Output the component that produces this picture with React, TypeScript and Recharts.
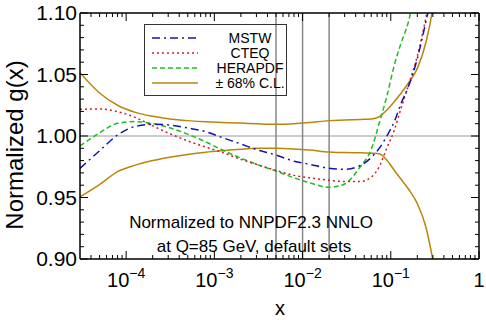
import { LineChart, Line, XAxis, YAxis, ReferenceLine, Legend } from "recharts";

// x grid (log scale) and normalized gluon ratios
const X_VALS = [
  3e-5, 5e-5, 8e-5, 1.3e-4, 2e-4, 3e-4, 5e-4, 8e-4, 1.2e-3, 2e-3, 3e-3, 5e-3, 8e-3, 0.012,
  0.02, 0.03, 0.045, 0.06, 0.075, 0.09, 0.11, 0.13, 0.16, 0.2, 0.25, 0.3, 0.35,
];
const MSTW = [
  0.9737, 0.988, 1.0008, 1.008, 1.0095, 1.009, 1.0065, 1.0035, 0.999, 0.9935, 0.989, 0.9845,
  0.9795, 0.977, 0.9737, 0.973, 0.976, 0.9825, 0.9905, 0.9998, 1.012, 1.026, 1.041, 1.063,
  1.093, 1.12, 1.15,
];
const CTEQ = [
  1.0217, 1.022, 1.0198, 1.0148, 1.0082, 1.0025, 0.996, 0.991, 0.987, 0.981, 0.977, 0.972,
  0.968, 0.966, 0.964, 0.963, 0.963, 0.9665, 0.976, 0.99, 1.005, 1.022, 1.042, 1.065, 1.096,
  1.125, 1.16,
];
const HERAPDF = [
  0.9919, 1.0025, 1.0103, 1.0117, 1.01, 1.007, 1.0015, 0.9952, 0.989, 0.982, 0.977, 0.9715,
  0.966, 0.962, 0.9583, 0.961, 0.975, 0.989, 1.012, 1.032, 1.058, 1.075, 1.094, 1.13, 1.18,
  1.23, 1.28,
];
const CL_UP = [
  1.0515, 1.035, 1.025, 1.019, 1.016, 1.014, 1.0125, 1.0115, 1.011, 1.0105, 1.01, 1.0095,
  1.01, 1.011, 1.0125, 1.013, 1.0135, 1.0138, 1.016, 1.021, 1.028, 1.0345, 1.0435, 1.055,
  1.076, 1.105, 1.15,
];
const CL_LO = [
  0.9506, 0.9605, 0.971, 0.9765, 0.98, 0.9825, 0.985, 0.9868, 0.988, 0.9893, 0.99, 0.99,
  0.9895, 0.9886, 0.987, 0.9865, 0.9864, 0.986, 0.9853, 0.9805, 0.972, 0.965, 0.9565, 0.945,
  0.926, 0.899, 0.87,
];

const X_MAJOR = [1e-4, 1e-3, 1e-2, 1e-1, 1];
const X_EXP = ["−4", "−3", "−2", "−1", ""];
const X_MINOR_MULT = [2, 3, 4, 5, 6, 7, 8, 9];
const Y_TICKS = [
  0.9, 0.91, 0.92, 0.93, 0.94, 0.95, 0.96, 0.97, 0.98, 0.99, 1.0, 1.01, 1.02, 1.03, 1.04, 1.05,
  1.06, 1.07, 1.08, 1.09, 1.1,
];
const V_LINES = [0.005, 0.01, 0.02];

const data = X_VALS.map((x, i) => ({
  x,
  mstw: MSTW[i],
  cteq: CTEQ[i],
  hera: HERAPDF[i],
  up: CL_UP[i],
  lo: CL_LO[i],
}));

const X_TICKS = [
  ...[1e-5, 1e-4, 1e-3, 1e-2, 1e-1].flatMap((d) => [d, ...X_MINOR_MULT.map((m) => m * d)]),
  1,
].filter((v) => v >= 3.0001e-5 && v <= 1);

const FONT = "'Liberation Sans', Arial, Helvetica, sans-serif";
const GOLD = "#b8860b";

const SERIES = [
  { name: "MSTW", color: "#1414b4", dash: "8 4 2 4" },
  { name: "CTEQ", color: "#cc2020", dash: "2 3" },
  { name: "HERAPDF", color: "#22bb22", dash: "5 3" },
  { name: "± 68% C.L.", color: GOLD, dash: undefined },
];

const majorIndex = (v: number) => X_MAJOR.findIndex((m) => Math.abs(v / m - 1) < 1e-6);
const isMajorY = (v: number) => Math.round(v * 100) % 5 === 0;

function BottomTick({ x, y, payload }: any) {
  const i = majorIndex(payload.value);
  const len = i >= 0 ? 8 : 4;
  return (
    <g>
      <line x1={x} x2={x} y1={y} y2={y - len} stroke="#000" />
      {i >= 0 && (
        <text x={x} y={y + 28} textAnchor="middle" fontSize={20} fontFamily={FONT} fill="#000">
          {X_EXP[i] ? (
            <>
              <tspan>10</tspan>
              <tspan fontSize={14} dy={-9}>{X_EXP[i]}</tspan>
            </>
          ) : (
            "1"
          )}
        </text>
      )}
    </g>
  );
}

function TopTick({ x, y, payload }: any) {
  const len = majorIndex(payload.value) >= 0 ? 8 : 4;
  return <line x1={x} x2={x} y1={y} y2={y + len} stroke="#000" />;
}

function LeftTick({ x, y, payload }: any) {
  const v = payload.value;
  const major = isMajorY(v);
  return (
    <g>
      <line x1={x} x2={x + (major ? 8 : 4)} y1={y} y2={y} stroke="#000" />
      {major && (
        <text x={x - 3} y={y + 7} textAnchor="end" fontSize={21} fontFamily={FONT} fill="#000">
          {v.toFixed(2)}
        </text>
      )}
    </g>
  );
}

function RightTick({ x, y, payload }: any) {
  const len = isMajorY(payload.value) ? 8 : 4;
  return <line x1={x} x2={x - len} y1={y} y2={y} stroke="#000" />;
}

function LegendBox() {
  return (
    <svg width={144} height={73} style={{ display: "block" }}>
      <rect x={0.5} y={0.5} width={142} height={71} fill="none" stroke="#333" />
      {SERIES.map((s, i) => (
        <g key={s.name}>
          <line
            x1={8}
            x2={54}
            y1={14 + i * 15}
            y2={14 + i * 15}
            stroke={s.color}
            strokeWidth={1.5}
            strokeDasharray={s.dash}
          />
          <text x={106} y={19 + i * 15} textAnchor="middle" fontSize={14} fontFamily={FONT} fill="#000">
            {s.name}
          </text>
        </g>
      ))}
    </svg>
  );
}

export default function App() {
  const axisLine = { stroke: "#000", strokeWidth: 1.5 };
  return (
    <div style={{ position: "relative", width: 486, height: 320 }}>
      <style>{"body{margin:0}"}</style>
      <LineChart width={486} height={320} data={data} margin={{ top: 0, right: 0, bottom: 0, left: 0 }}>
        <XAxis
          dataKey="x"
          type="number"
          scale="log"
          domain={[3e-5, 1]}
          allowDataOverflow
          ticks={X_TICKS}
          interval={0}
          height={61}
          tickSize={0}
          tickMargin={0}
          tickLine={false}
          axisLine={axisLine}
          tick={<BottomTick />}
        />
        <XAxis
          xAxisId="top"
          dataKey="x"
          orientation="top"
          type="number"
          scale="log"
          domain={[3e-5, 1]}
          allowDataOverflow
          ticks={X_TICKS}
          interval={0}
          height={13}
          tickSize={0}
          tickMargin={0}
          tickLine={false}
          axisLine={axisLine}
          tick={<TopTick />}
        />
        <YAxis
          type="number"
          domain={[0.9, 1.1]}
          allowDataOverflow
          ticks={Y_TICKS}
          interval={0}
          width={80}
          tickSize={0}
          tickMargin={0}
          tickLine={false}
          axisLine={axisLine}
          tick={<LeftTick />}
        />
        <YAxis
          yAxisId="right"
          orientation="right"
          type="number"
          domain={[0.9, 1.1]}
          allowDataOverflow
          ticks={Y_TICKS}
          interval={0}
          width={7}
          tickSize={0}
          tickMargin={0}
          tickLine={false}
          axisLine={axisLine}
          tick={<RightTick />}
        />
        <ReferenceLine y={1} stroke="#999" strokeWidth={1} />
        {V_LINES.map((v) => (
          <ReferenceLine key={v} x={v} stroke="#888" strokeWidth={1.5} />
        ))}
        <Legend
          layout="vertical"
          align="center"
          verticalAlign="middle"
          content={() => <LegendBox />}
          wrapperStyle={{ position: "absolute", left: 144, top: 24, width: 144, height: 73 }}
        />
        <Line dataKey="up" stroke={GOLD} strokeWidth={1.5} dot={false} type="monotone" isAnimationActive={false} />
        <Line dataKey="lo" stroke={GOLD} strokeWidth={1.5} dot={false} type="monotone" isAnimationActive={false} />
        <Line dataKey="hera" stroke={SERIES[2].color} strokeDasharray={SERIES[2].dash} strokeWidth={1.5} dot={false} type="monotone" isAnimationActive={false} />
        <Line dataKey="cteq" stroke={SERIES[1].color} strokeDasharray={SERIES[1].dash} strokeWidth={1.5} dot={false} type="monotone" isAnimationActive={false} />
        <Line dataKey="mstw" stroke={SERIES[0].color} strokeDasharray={SERIES[0].dash} strokeWidth={1.5} dot={false} type="monotone" isAnimationActive={false} />
      </LineChart>
      <svg
        width={486}
        height={320}
        style={{ position: "absolute", left: 0, top: 0, pointerEvents: "none" }}
        fontFamily={FONT}
      >
        <text x={0} y={0} transform="translate(23,145) rotate(-90)" textAnchor="middle" fontSize={24}>
          Normalized g(x)
        </text>
        <text x={280} y={315} textAnchor="middle" fontSize={20}>
          x
        </text>
        <text x={251} y={228} textAnchor="middle" fontSize={17}>
          Normalized to NNPDF2.3 NNLO
        </text>
        <text x={254} y={252} textAnchor="middle" fontSize={17}>
          at Q=85 GeV, default sets
        </text>
      </svg>
    </div>
  );
}
